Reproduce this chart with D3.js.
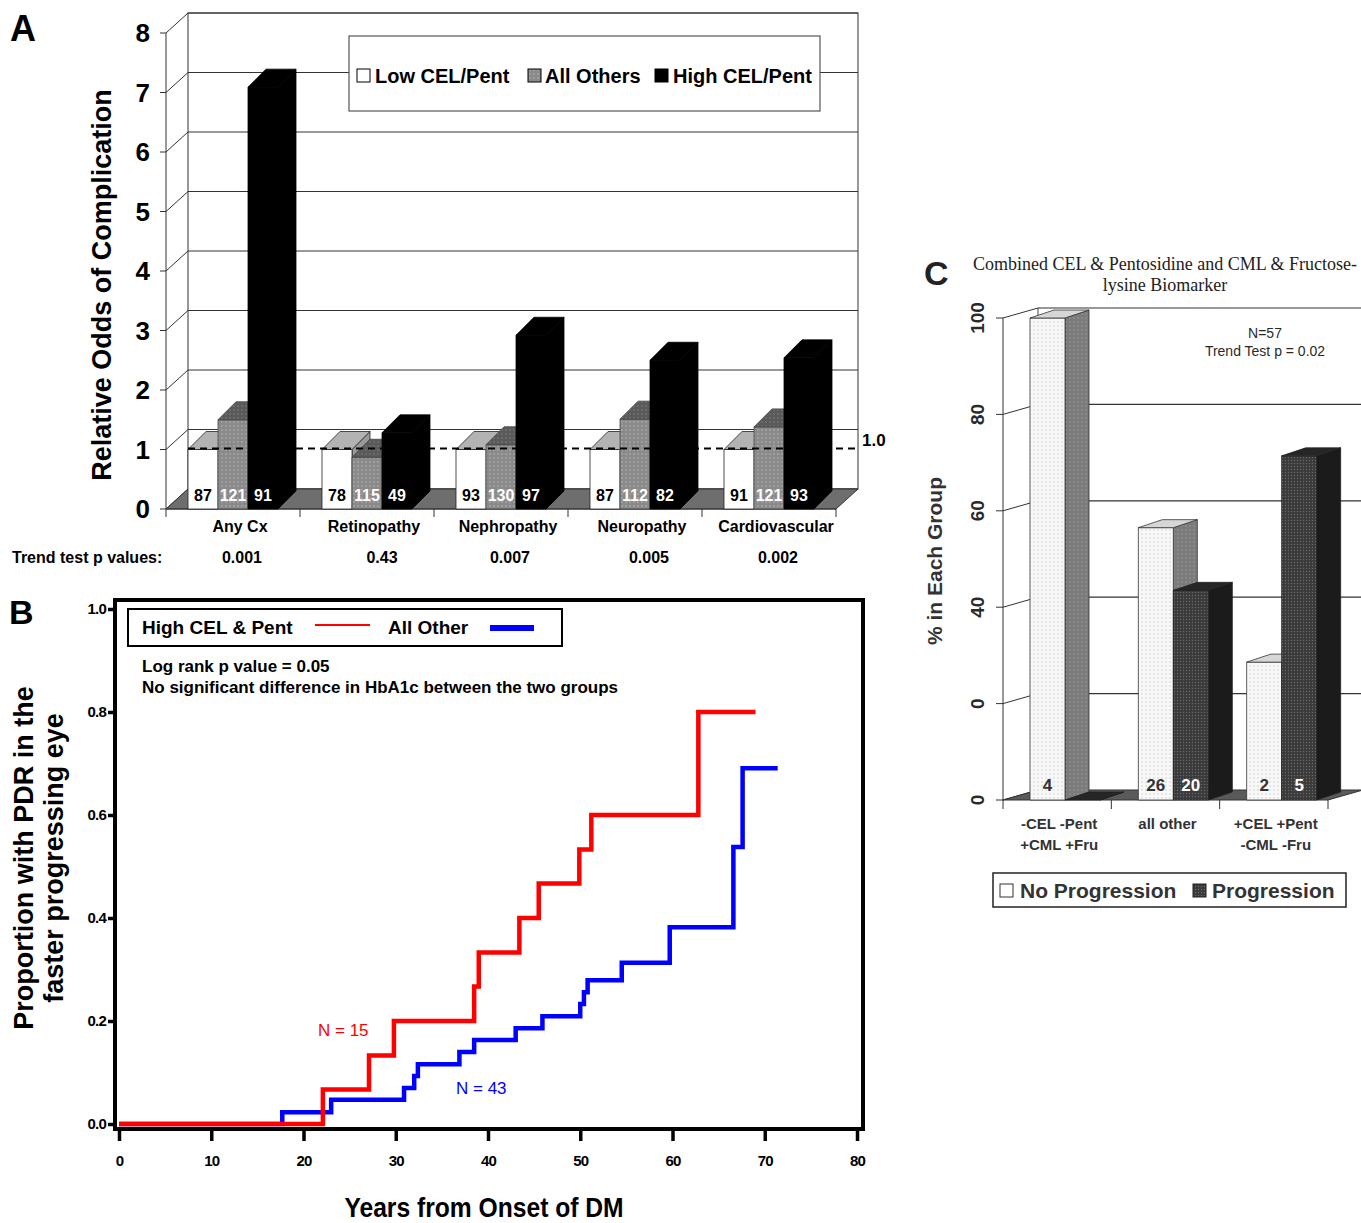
<!DOCTYPE html>
<html lang="en">
<head>
<meta charset="UTF-8">
<title>CEL / Pentosidine biomarkers and complications</title>
<style>
  body { margin: 0; background: #fff; }
  svg { display: block; font-family: "Liberation Sans", Arial, sans-serif; }
</style>
</head>
<body>
<svg width="1361" height="1223"></svg>
<script src="https://d3js.org/d3.v7.min.js"></script>
<script>
// ---- panel A data ----
const complications = ["Any Cx", "Retinopathy", "Nephropathy", "Neuropathy", "Cardiovascular"];
const seriesA = ["Low CEL/Pent", "All Others", "High CEL/Pent"];
const oddsLow = [1, 1, 1, 1, 1];
const oddsOthers = [1.5, 0.87, 1.08, 1.51, 1.38];
const oddsHigh = [7.09, 1.28, 2.92, 2.5, 2.54];
const nLow = [87, 78, 93, 87, 91];
const nOthers = [121, 115, 130, 112, 121];
const nHigh = [91, 49, 97, 82, 93];
const trendP = ["0.001", "0.43", "0.007", "0.005", "0.002"];
const ticksA = [0, 1, 2, 3, 4, 5, 6, 7, 8];

// ---- panel B data (Kaplan-Meier style steps) ----
const highYears = [0, 22.1, 27.1, 29.8, 38.5, 39.0, 43.4, 45.5, 49.9, 51.2, 62.8, 69.0];
const highProp  = [0, 0.067, 0.133, 0.2, 0.267, 0.333, 0.4, 0.467, 0.533, 0.6, 0.8, 0.8];
const otherYears = [0, 17.7, 23.0, 30.9, 32.0, 32.4, 36.9, 38.5, 43.0, 45.9, 50.0, 50.4, 50.8, 54.5, 59.7, 66.6, 67.6, 71.4];
const otherProp  = [0, 0.023, 0.047, 0.07, 0.093, 0.116, 0.14, 0.163, 0.186, 0.209, 0.233, 0.256, 0.279, 0.313, 0.382, 0.538, 0.691, 0.691];
const ticksBx = [0, 10, 20, 30, 40, 50, 60, 70, 80];
const ticksBy = [0, 0.2, 0.4, 0.6, 0.8, 1.0];

// ---- panel C data ----
const groupsC = ["g1", "g2", "g3"];
const groupLabels = [["-CEL -Pent", "+CML +Fru"], ["all other"], ["+CEL +Pent", "-CML -Fru"]];
const pctNoProg = [100, 56.5, 28.6];
const pctProg = [0, 43.5, 71.4];
const nNoProg = ["4", "26", "2"];
const nProg = ["", "20", "5"];
const ticksC = [0, 20, 40, 60, 80, 100];
const tickLabelsC = ["0", "0", "40", "60", "80", "100"];

const svg = d3.select("svg");
svg.append("rect").attr("width", 1361).attr("height", 1223).attr("fill", "#fff");
const defs = svg.append("defs");

function dots(id, bg, dot, size, r) {
  const p = defs.append("pattern").attr("id", id)
    .attr("width", size).attr("height", size).attr("patternUnits", "userSpaceOnUse");
  p.append("rect").attr("width", size).attr("height", size).attr("fill", bg);
  p.append("circle").attr("cx", size / 2).attr("cy", size / 2).attr("r", r).attr("fill", dot);
}
dots("aOthersFront", "#8a8a8a", "#b8b8b8", 4, 0.8);
dots("aOthersTop", "#5a5a5a", "#7e7e7e", 4, 0.8);
dots("cNoFront", "#f8f8f8", "#c6c6c6", 4, 0.7);
dots("cNoSide", "#7b7b7b", "#9c9c9c", 4, 0.8);
dots("cProgFront", "#3a3a3a", "#6a6a6a", 3, 0.7);

// generic 3D bar: front rect, top face, right side face
function bar3d(g, x, w, yBase, yTop, dx, dy, fills, stroke) {
  const b = g.append("g").attr("stroke", stroke).attr("stroke-width", 0.8).attr("stroke-linejoin", "round");
  b.append("path").attr("fill", fills.side)
    .attr("d", `M${x + w},${yTop}L${x + w + dx},${yTop + dy}L${x + w + dx},${yBase + dy}L${x + w},${yBase}Z`);
  b.append("rect").attr("x", x).attr("y", yTop).attr("width", w).attr("height", yBase - yTop).attr("fill", fills.front);
  b.append("path").attr("fill", fills.top)
    .attr("d", `M${x},${yTop}L${x + dx},${yTop + dy}L${x + w + dx},${yTop + dy}L${x + w},${yTop}Z`);
  return b;
}

// ================= PANEL A =================
const gA = svg.append("g");
const xA = d3.scaleBand().domain(complications).range([166, 836]);
const yA = d3.scaleLinear().domain([0, 8]).range([509, 33]);
const wallDx = 22, wallDy = -20;
const barDx = 18, barDy = -18, barW = 30, barOff = 22;
const left = xA.range()[0], right = xA.range()[1];

// back wall & grid
gA.append("rect").attr("x", left + wallDx).attr("y", yA(8) + wallDy)
  .attr("width", right - left).attr("height", yA(0) - yA(8))
  .attr("fill", "#fff").attr("stroke", "#333").attr("stroke-width", 1);
ticksA.forEach(v => {
  gA.append("line").attr("x1", left + wallDx).attr("x2", right + wallDx)
    .attr("y1", yA(v) + wallDy).attr("y2", yA(v) + wallDy).attr("stroke", "#333");
  gA.append("line").attr("x1", left).attr("x2", left + wallDx)
    .attr("y1", yA(v)).attr("y2", yA(v) + wallDy).attr("stroke", "#333");
  gA.append("line").attr("x1", left - 6).attr("x2", left)
    .attr("y1", yA(v)).attr("y2", yA(v)).attr("stroke", "#333");
  gA.append("text").attr("x", 150).attr("y", yA(v) + 9).attr("text-anchor", "end")
    .attr("font-size", 26).attr("font-weight", "bold").text(v);
});
gA.append("line").attr("x1", left).attr("x2", left).attr("y1", yA(0)).attr("y2", yA(8)).attr("stroke", "#333");

// floor
gA.append("path").attr("fill", "#6e6e6e").attr("stroke", "#333")
  .attr("d", `M${left},${yA(0)}L${right},${yA(0)}L${right + wallDx},${yA(0) + wallDy}L${left + wallDx},${yA(0) + wallDy}Z`);
gA.append("line").attr("x1", left).attr("x2", right).attr("y1", yA(0)).attr("y2", yA(0)).attr("stroke", "#333");
[...complications.map(c => xA(c)), right].forEach(x => {
  gA.append("line").attr("x1", x).attr("x2", x).attr("y1", yA(0)).attr("y2", yA(0) + 8).attr("stroke", "#333");
});

// legend
gA.append("rect").attr("x", 349).attr("y", 36).attr("width", 471).attr("height", 75)
  .attr("fill", "#fff").attr("stroke", "#555").attr("stroke-width", 1.2);
const legA = [
  { sq: 357, tx: 375, fill: "#fff" },
  { sq: 528, tx: 545, fill: "url(#aOthersFront)" },
  { sq: 655, tx: 673, fill: "#000" }
];
legA.forEach((d, i) => {
  gA.append("rect").attr("x", d.sq).attr("y", 69).attr("width", 13).attr("height", 13)
    .attr("fill", d.fill).attr("stroke", "#000").attr("stroke-width", 1);
  gA.append("text").attr("x", d.tx).attr("y", 83).attr("font-size", 20).attr("font-weight", "bold").text(seriesA[i]);
});

// bars: white and gray first, then the dashed reference, then the black bars
complications.forEach((c, i) => {
  const x0 = xA(c) + barOff;
  bar3d(gA, x0, barW, yA(0), yA(oddsLow[i]), barDx, barDy, { front: "#fff", top: "#b3b3b3", side: "#9a9a9a" }, "#222");
  bar3d(gA, x0 + barW, barW, yA(0), yA(oddsOthers[i]), barDx, barDy,
    { front: "url(#aOthersFront)", top: "url(#aOthersTop)", side: "#5a5a5a" }, "#444");
});
gA.append("line").attr("x1", left + wallDx).attr("x2", right + wallDx)
  .attr("y1", yA(1) - 1).attr("y2", yA(1) - 1)
  .attr("stroke", "#000").attr("stroke-width", 2).attr("stroke-dasharray", "7,5");
complications.forEach((c, i) => {
  const x0 = xA(c) + barOff;
  bar3d(gA, x0 + 2 * barW, barW, yA(0), yA(oddsHigh[i]), barDx, barDy, { front: "#000", top: "#000", side: "#000" }, "#000");
  const labs = [[nLow[i], "#000"], [nOthers[i], "#fff"], [nHigh[i], "#fff"]];
  labs.forEach((l, j) => {
    gA.append("text").attr("x", x0 + barW * j + barW / 2).attr("y", yA(0) - 8)
      .attr("text-anchor", "middle").attr("font-size", 16).attr("font-weight", "bold")
      .attr("fill", l[1]).text(l[0]);
  });
  const cx = xA(c) + xA.bandwidth() / 2 + 7;
  gA.append("text").attr("x", cx).attr("y", 532).attr("text-anchor", "middle")
    .attr("font-size", 16).attr("font-weight", "bold").text(c);
  gA.append("text").attr("x", cx + (i === 1 ? 8 : i === 3 ? 7 : 2)).attr("y", 563).attr("text-anchor", "middle")
    .attr("font-size", 16).attr("font-weight", "bold").text(trendP[i]);
});
gA.append("text").attr("x", 862).attr("y", 446).attr("font-size", 17).attr("font-weight", "bold").text("1.0");
gA.append("text").attr("x", 12).attr("y", 563).attr("font-size", 16).attr("font-weight", "bold").text("Trend test p values:");
gA.append("text").attr("transform", "translate(111,285) rotate(-90)").attr("text-anchor", "middle")
  .attr("font-size", 27).attr("font-weight", "bold").text("Relative Odds of Complication");
svg.append("text").attr("x", 10).attr("y", 41).attr("font-size", 36).attr("font-weight", "bold").text("A");

// ================= PANEL B =================
const gB = svg.append("g");
const xB = d3.scaleLinear().domain([0, 80]).range([119, 857]);
const yB = d3.scaleLinear().domain([0, 1]).range([1124, 609]);

const stepLine = d3.line().x(d => xB(d[0])).y(d => yB(d[1])).curve(d3.curveStepAfter);
gB.append("path").datum(otherYears.map((t, i) => [t, otherProp[i]]))
  .attr("d", stepLine).attr("fill", "none").attr("stroke", "#0000ff").attr("stroke-width", 4.5);
gB.append("path").datum(highYears.map((t, i) => [t, highProp[i]]))
  .attr("d", stepLine).attr("fill", "none").attr("stroke", "#ff0000").attr("stroke-width", 4.5);

gB.append("rect").attr("x", 115).attr("y", 600).attr("width", 748).attr("height", 529)
  .attr("fill", "none").attr("stroke", "#000").attr("stroke-width", 4);

const axB = gB.append("g").attr("transform", "translate(115,0)")
  .call(d3.axisLeft(yB).tickValues(ticksBy).tickFormat(d3.format(".1f")).tickSize(7).tickPadding(2));
const axBx = gB.append("g").attr("transform", "translate(0,1131)")
  .call(d3.axisBottom(xB).tickValues(ticksBx).tickFormat(d3.format("d")).tickSize(10).tickPadding(14));
[axB, axBx].forEach(a => {
  a.select(".domain").remove();
  a.selectAll(".tick line").attr("stroke", "#000").attr("stroke-width", 3.5);
  a.selectAll(".tick text").attr("font-size", 15).attr("font-weight", "bold").attr("fill", "#000")
    .attr("letter-spacing", -0.8);
});

// legend
gB.append("rect").attr("x", 128).attr("y", 609).attr("width", 434).attr("height", 37)
  .attr("fill", "#fff").attr("stroke", "#000").attr("stroke-width", 2);
gB.append("text").attr("x", 142).attr("y", 634).attr("font-size", 19).attr("font-weight", "bold").text("High CEL & Pent");
gB.append("line").attr("x1", 315).attr("x2", 370).attr("y1", 625).attr("y2", 625).attr("stroke", "#ff0000").attr("stroke-width", 1.8);
gB.append("text").attr("x", 388).attr("y", 634).attr("font-size", 19).attr("font-weight", "bold").text("All Other");
gB.append("line").attr("x1", 490).attr("x2", 534).attr("y1", 628).attr("y2", 628).attr("stroke", "#0000ff").attr("stroke-width", 6);

gB.append("text").attr("x", 142).attr("y", 672).attr("font-size", 17).attr("font-weight", "bold").text("Log rank p value = 0.05");
gB.append("text").attr("x", 142).attr("y", 693).attr("font-size", 17).attr("font-weight", "bold")
  .text("No significant difference in HbA1c between the two groups");
gB.append("text").attr("x", 318).attr("y", 1036).attr("font-size", 17).attr("fill", "#ff0000").text("N = 15");
gB.append("text").attr("x", 456).attr("y", 1094).attr("font-size", 17).attr("fill", "#0000ff").text("N = 43");

gB.append("text").attr("transform", "translate(484,1217) scale(0.88,1)").attr("text-anchor", "middle")
  .attr("font-size", 28).attr("font-weight", "bold").text("Years from Onset of DM");
gB.append("text").attr("transform", "translate(33,858) rotate(-90)").attr("text-anchor", "middle")
  .attr("font-size", 27).attr("font-weight", "bold").text("Proportion with PDR in the");
gB.append("text").attr("transform", "translate(63,858) rotate(-90)").attr("text-anchor", "middle")
  .attr("font-size", 27).attr("font-weight", "bold").text("faster progressing eye");
svg.append("text").attr("x", 9).attr("y", 624).attr("font-size", 34).attr("font-weight", "bold").text("B");

// ================= PANEL C =================
const gC = svg.append("g").attr("fill", "#2a2a2a");
const xC = d3.scaleBand().domain(groupsC).range([1003, 1328]);
const yC = d3.scaleLinear().domain([0, 100]).range([800, 318]);
const cWallDx = 35, cWallDy = -10;
const cBarDx = 24, cBarDy = -8, cBarW = 35, cBarOff = 27;
const cl = xC.range()[0], cr = xC.range()[1];

gC.append("line").attr("x1", cl + cWallDx).attr("x2", cl + cWallDx)
  .attr("y1", yC(0) + cWallDy).attr("y2", yC(100) + cWallDy).attr("stroke", "#444");
ticksC.forEach((v, i) => {
  if (v > 0) {
    gC.append("line").attr("x1", cl + cWallDx).attr("x2", 1361)
      .attr("y1", yC(v) + cWallDy).attr("y2", yC(v) + cWallDy).attr("stroke", "#333").attr("stroke-width", 1.2);
  }
  gC.append("line").attr("x1", cl).attr("x2", cl + cWallDx)
    .attr("y1", yC(v)).attr("y2", yC(v) + cWallDy).attr("stroke", "#333");
  gC.append("line").attr("x1", cl - 7).attr("x2", cl)
    .attr("y1", yC(v)).attr("y2", yC(v)).attr("stroke", "#333");
  gC.append("text").attr("transform", `translate(984,${yC(v)}) rotate(-90)`).attr("text-anchor", "middle")
    .attr("font-size", 19).attr("font-weight", "bold").text(tickLabelsC[i]);
});
gC.append("line").attr("x1", cl).attr("x2", cl).attr("y1", yC(0)).attr("y2", yC(100)).attr("stroke", "#333");
gC.append("path").attr("fill", "#5a5a5a").attr("stroke", "#333")
  .attr("d", `M${cl},${yC(0)}L${cr},${yC(0)}L${cr + cWallDx},${yC(0) + cWallDy}L${cl + cWallDx},${yC(0) + cWallDy}Z`);
[...groupsC.map(g => xC(g)), cr].forEach(x => {
  gC.append("line").attr("x1", x).attr("x2", x).attr("y1", yC(0)).attr("y2", yC(0) + 9).attr("stroke", "#333");
});

groupsC.forEach((g, i) => {
  const x0 = xC(g) + cBarOff;
  bar3d(gC, x0, cBarW, yC(0), yC(pctNoProg[i]), cBarDx, cBarDy,
    { front: "url(#cNoFront)", top: "#d6d6d6", side: "url(#cNoSide)" }, "#333");
  bar3d(gC, x0 + cBarW, cBarW, yC(0), yC(pctProg[i]), cBarDx, cBarDy,
    { front: "url(#cProgFront)", top: "#262626", side: "#1b1b1b" }, "#222");
  gC.append("text").attr("x", x0 + cBarW / 2).attr("y", 791).attr("text-anchor", "middle")
    .attr("font-size", 17).attr("font-weight", "bold").attr("fill", "#333").text(nNoProg[i]);
  gC.append("text").attr("x", x0 + cBarW * 1.5).attr("y", 791).attr("text-anchor", "middle")
    .attr("font-size", 17).attr("font-weight", "bold").attr("fill", "#fff").text(nProg[i]);
  const cx = xC(g) + xC.bandwidth() / 2 + 2;
  groupLabels[i].forEach((t, k) => {
    gC.append("text").attr("x", cx).attr("y", 829 + k * 21).attr("text-anchor", "middle")
      .attr("font-size", 15).attr("font-weight", "bold").attr("fill", "#333").text(t);
  });
});

gC.append("text").attr("x", 1265).attr("y", 338).attr("text-anchor", "middle").attr("font-size", 14).text("N=57");
gC.append("text").attr("x", 1265).attr("y", 356).attr("text-anchor", "middle").attr("font-size", 14).text("Trend Test p = 0.02");
gC.append("text").attr("transform", "translate(942,561) rotate(-90)").attr("text-anchor", "middle")
  .attr("font-size", 21).attr("font-weight", "bold").attr("fill", "#333").text("% in Each Group");
gC.append("text").attr("x", 1165).attr("y", 270).attr("text-anchor", "middle")
  .attr("font-family", "'Liberation Serif', 'Times New Roman', serif").attr("font-size", 18).attr("fill", "#222")
  .text("Combined CEL & Pentosidine and CML & Fructose-");
gC.append("text").attr("x", 1165).attr("y", 291).attr("text-anchor", "middle")
  .attr("font-family", "'Liberation Serif', 'Times New Roman', serif").attr("font-size", 18).attr("fill", "#222")
  .text("lysine Biomarker");

// legend
gC.append("rect").attr("x", 993).attr("y", 873).attr("width", 353).attr("height", 34)
  .attr("fill", "#fff").attr("stroke", "#222").attr("stroke-width", 1.5);
gC.append("rect").attr("x", 1000).attr("y", 884).attr("width", 13).attr("height", 13)
  .attr("fill", "#fff").attr("stroke", "#333");
gC.append("text").attr("x", 1020).attr("y", 898).attr("font-size", 21).attr("font-weight", "bold").attr("fill", "#333").text("No Progression");
gC.append("rect").attr("x", 1193).attr("y", 884).attr("width", 13).attr("height", 13)
  .attr("fill", "url(#cProgFront)").attr("stroke", "#222");
gC.append("text").attr("x", 1212).attr("y", 898).attr("font-size", 21).attr("font-weight", "bold").attr("fill", "#333").text("Progression");
svg.append("text").attr("x", 924).attr("y", 285).attr("font-size", 34).attr("font-weight", "bold").attr("fill", "#222").text("C");
</script>
</body>
</html>
